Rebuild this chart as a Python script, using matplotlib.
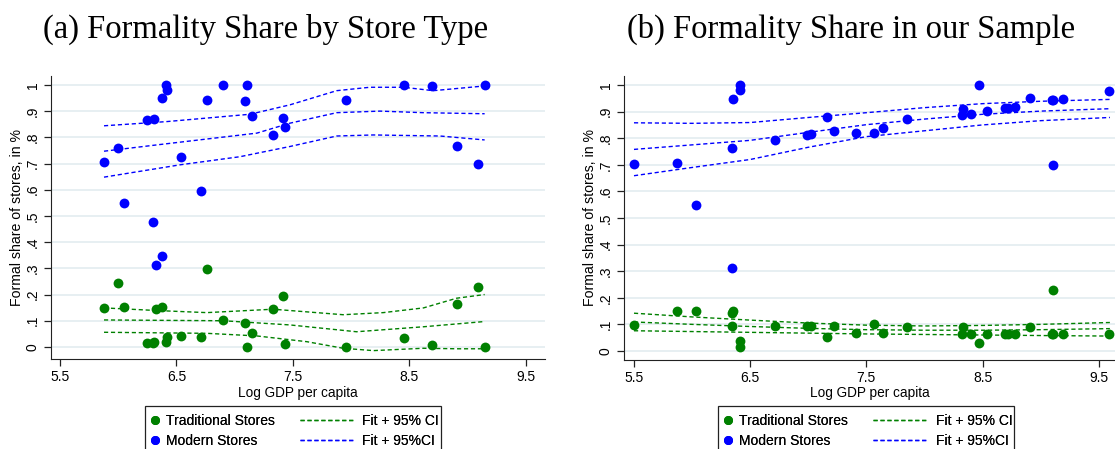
import matplotlib
matplotlib.use("Agg")
import matplotlib.pyplot as plt
from matplotlib.lines import Line2D
from matplotlib.patches import Rectangle
import numpy as np

# (a) by store type: log GDP per capita vs formal share
trad_a_x = [5.878, 6.00, 6.05, 6.244, 6.30, 6.31, 6.324, 6.376, 6.41, 6.418, 6.54, 6.713, 6.76,
            6.90, 7.085, 7.108, 7.15, 7.33, 7.417, 7.434, 7.952, 8.45, 8.69, 8.905, 9.085, 9.145]
trad_a_y = [0.150, 0.244, 0.153, 0.014, 0.016, 0.020, 0.146, 0.151, 0.019, 0.039, 0.041, 0.039, 0.299,
            0.104, 0.093, 0.000, 0.053, 0.144, 0.194, 0.010, 0.001, 0.033, 0.006, 0.162, 0.230, 0.001]
mod_a_x = [5.878, 6.00, 6.05, 6.244, 6.307, 6.30, 6.324, 6.376, 6.373, 6.41, 6.418, 6.54, 6.713, 6.76,
           6.90, 7.085, 7.108, 7.15, 7.33, 7.417, 7.434, 7.952, 8.45, 8.69, 8.905, 9.085, 9.145]
mod_a_y = [0.707, 0.758, 0.551, 0.865, 0.870, 0.476, 0.313, 0.346, 0.949, 1.000, 0.982, 0.724, 0.595, 0.942,
           1.000, 0.939, 1.000, 0.882, 0.809, 0.873, 0.841, 0.944, 1.000, 0.994, 0.768, 0.700, 1.000]

# local fits with 95% bands, panel (a)
trad_a_hi_x = [5.878, 6.33, 6.76, 7.33, 7.93, 8.275, 8.62, 8.905, 9.145]
trad_a_hi_y = [0.149, 0.139, 0.131, 0.144, 0.123, 0.131, 0.149, 0.186, 0.200]
trad_a_fit_x = [5.878, 6.90, 7.474, 8.045, 8.62, 9.145]
trad_a_fit_y = [0.103, 0.100, 0.084, 0.058, 0.077, 0.097]
trad_a_lo_x = [5.878, 6.76, 7.19, 7.62, 7.93, 8.19, 8.62, 8.905, 9.145]
trad_a_lo_y = [0.056, 0.052, 0.042, 0.020, -0.005, -0.014, -0.005, -0.007, -0.007]

mod_a_hi_x = [5.878, 6.416, 7.131, 7.474, 7.875, 8.16, 8.447, 8.704, 9.145]
mod_a_hi_y = [0.844, 0.860, 0.888, 0.924, 0.978, 0.991, 0.991, 0.978, 0.996]
mod_a_fit_x = [5.878, 6.33, 7.19, 7.474, 7.875, 8.247, 8.619, 9.145]
mod_a_fit_y = [0.747, 0.771, 0.816, 0.854, 0.894, 0.900, 0.894, 0.890]
mod_a_lo_x = [5.878, 6.53, 7.045, 7.474, 7.875, 8.19, 8.762, 9.145]
mod_a_lo_y = [0.648, 0.695, 0.726, 0.765, 0.805, 0.809, 0.805, 0.790]

# (b) our sample
trad_b_x = [5.50, 5.867, 6.036, 6.346, 6.346, 6.355, 6.415, 6.415, 6.713, 6.989, 7.02, 7.158, 7.221,
            7.408, 7.568, 7.64, 7.847, 8.323, 8.329, 8.403, 8.472, 8.535, 8.69, 8.721, 8.776,
            8.911, 9.095, 9.103, 9.109, 9.189, 9.59]
trad_b_y = [0.097, 0.149, 0.150, 0.095, 0.143, 0.150, 0.036, 0.016, 0.095, 0.095, 0.095, 0.053, 0.093,
            0.069, 0.101, 0.068, 0.091, 0.065, 0.090, 0.065, 0.031, 0.065, 0.065, 0.065, 0.065,
            0.089, 0.063, 0.229, 0.063, 0.064, 0.064]
mod_b_x = [5.50, 5.867, 6.036, 6.346, 6.346, 6.355, 6.415, 6.415, 6.713, 6.989, 7.02, 7.158, 7.221,
           7.408, 7.568, 7.64, 7.847, 8.323, 8.329, 8.403, 8.472, 8.535, 8.69, 8.721, 8.776,
           8.911, 9.095, 9.103, 9.109, 9.189, 9.59]
mod_b_y = [0.704, 0.708, 0.550, 0.311, 0.764, 0.949, 0.999, 0.981, 0.792, 0.812, 0.815, 0.881, 0.828,
           0.820, 0.818, 0.837, 0.873, 0.886, 0.909, 0.892, 1.000, 0.901, 0.912, 0.915, 0.918,
           0.950, 0.942, 0.699, 0.944, 0.947, 0.977]

# quadratic fits with 95% bands, panel (b)
fit_b_x = [5.5, 6.0, 6.5, 7.0, 7.5, 8.0, 8.5, 9.0, 9.596]
trad_b_hi = [0.142, 0.128, 0.116, 0.105, 0.097, 0.094, 0.096, 0.100, 0.107]
trad_b_fit = [0.109, 0.100, 0.092, 0.085, 0.080, 0.078, 0.078, 0.080, 0.084]
trad_b_lo = [0.076, 0.073, 0.070, 0.067, 0.064, 0.062, 0.060, 0.058, 0.056]
mod_b_hi = [0.858, 0.856, 0.859, 0.878, 0.896, 0.915, 0.930, 0.939, 0.946]
mod_b_fit = [0.758, 0.775, 0.792, 0.822, 0.851, 0.872, 0.890, 0.902, 0.911]
mod_b_lo = [0.659, 0.690, 0.720, 0.766, 0.806, 0.828, 0.850, 0.866, 0.878]

x_ticks = [5.5, 6.5, 7.5, 8.5, 9.5]
y_ticks = np.round(np.arange(0, 1.01, 0.1), 1)
y_ticklabels = ["0", ".1", ".2", ".3", ".4", ".5", ".6", ".7", ".8", ".9", "1"]
marker_labels = ["Traditional Stores", "Modern Stores"]
fit_labels = ["Fit + 95% CI", "Fit + 95%CI"]

GREEN = "#008000"
BLUE = "#0000ff"
SANS = "Liberation Sans"
SERIF = "Liberation Serif"
W, H = 1115, 449

plt.rcParams["font.family"] = SANS


def style_axes(ax, xlim, ylim):
    ax.set_xlim(*xlim)
    ax.set_ylim(*ylim)
    for y in y_ticks:
        ax.axhline(y, color="#e7eff2", lw=1.4, zorder=0)
    ax.spines["top"].set_visible(False)
    ax.spines["right"].set_visible(False)
    ax.spines["left"].set_color("#222222")
    ax.spines["bottom"].set_color("#222222")
    ax.set_xticks(x_ticks)
    ax.set_xticklabels([str(t) for t in x_ticks], fontsize=10)
    ax.set_yticks(y_ticks)
    ax.set_yticklabels(y_ticklabels, fontsize=10, rotation=90, va="center")
    ax.tick_params(length=5, width=0.9, color="#222222", pad=3)
    ax.set_xlabel("Log GDP per capita", fontsize=9.8, labelpad=1)
    ax.set_ylabel("Formal share of stores, in %", fontsize=10.2, labelpad=1)


def dashed(ax, x, y, color):
    ax.plot(x, y, color=color, lw=1.0, ls=(0, (3, 2)), zorder=2)


def add_legend(fig, left):
    # markers column, lines column and a box around both
    dots = [Line2D([], [], ls="none", marker="o", ms=5.5, color=c) for c in (GREEN, BLUE)]
    dashes = [Line2D([], [], color=c, lw=1.0, ls=(0, (3, 2))) for c in (GREEN, BLUE)]
    common = dict(loc="upper left", fontsize=10, frameon=False, borderpad=0,
                  borderaxespad=0, labelspacing=0.4)
    leg1 = fig.legend(dots, marker_labels, bbox_to_anchor=((left + 4) / W, 1 - 414 / H),
                      handlelength=0.8, handletextpad=0.45, **common)
    leg2 = fig.legend(dashes, fit_labels, bbox_to_anchor=((left + 155) / W, 1 - 414 / H),
                      handlelength=3.8, handletextpad=0.7, **common)
    fig.add_artist(leg1)
    fig.add_artist(leg2)
    fig.add_artist(Rectangle((left / W, -0.05), 296 / W, 0.05 + 1 - 406 / H,
                             transform=fig.transFigure, fill=False,
                             edgecolor="#222222", lw=0.9))


fig = plt.figure(figsize=(11.15, 4.49), dpi=100)

# panel (a)
ax1 = fig.add_axes([51 / W, 1 - 359 / H, 494 / W, 283 / H])
style_axes(ax1, (5.423, 9.663), (-0.046, 1.034))
ax1.scatter(trad_a_x, trad_a_y, s=50, color=GREEN, lw=0, zorder=3)
ax1.scatter(mod_a_x, mod_a_y, s=50, color=BLUE, lw=0, zorder=3)
dashed(ax1, trad_a_hi_x, trad_a_hi_y, GREEN)
dashed(ax1, trad_a_fit_x, trad_a_fit_y, GREEN)
dashed(ax1, trad_a_lo_x, trad_a_lo_y, GREEN)
dashed(ax1, mod_a_hi_x, mod_a_hi_y, BLUE)
dashed(ax1, mod_a_fit_x, mod_a_fit_y, BLUE)
dashed(ax1, mod_a_lo_x, mod_a_lo_y, BLUE)

# panel (b)
ax2 = fig.add_axes([624 / W, 1 - 360 / H, 491 / W, 284 / H])
style_axes(ax2, (5.414, 9.64), (-0.034, 1.034))
ax2.scatter(trad_b_x, trad_b_y, s=50, color=GREEN, lw=0, zorder=3)
ax2.scatter(mod_b_x, mod_b_y, s=50, color=BLUE, lw=0, zorder=3)
for line in (trad_b_hi, trad_b_fit, trad_b_lo):
    dashed(ax2, fit_b_x, line, GREEN)
for line in (mod_b_hi, mod_b_fit, mod_b_lo):
    dashed(ax2, fit_b_x, line, BLUE)

fig.text(266 / W, 1 - 29 / H, "(a) Formality Share by Store Type",
         family=SERIF, fontsize=23.5, ha="center", va="center")
fig.text(851 / W, 1 - 29 / H, "(b) Formality Share in our Sample",
         family=SERIF, fontsize=23.5, ha="center", va="center")

add_legend(fig, 145)
add_legend(fig, 718)

fig.savefig("out.png", dpi=100)
